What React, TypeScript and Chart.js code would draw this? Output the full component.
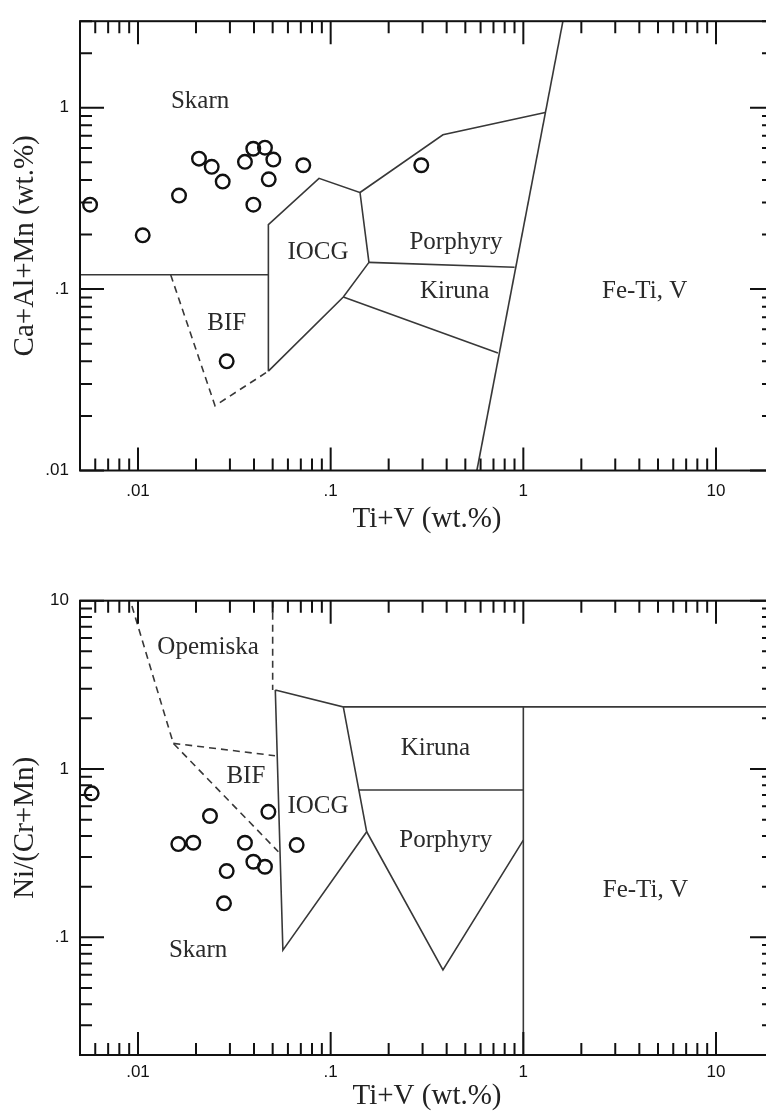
import React, { useEffect, useRef } from "react";
import { Chart, registerables } from "chart.js";

Chart.register(...registerables);

type Pt = [number, number];

// ---------- axes ----------
const X_MIN = 0.005;
const X_MAX = 20;
const TOP_Y_MIN = 0.01;
const TOP_Y_MAX = 3;
const BOT_Y_MIN = 0.02;
const BOT_Y_MAX = 10;
const xTickValues = [0.01, 0.1, 1, 10];
const topYTickValues = [0.01, 0.1, 1];
const botYTickValues = [0.1, 1, 10];
const xTitle = "Ti+V (wt.%)";
const topYTitle = "Ca+Al+Mn (wt.%)";
const botYTitle = "Ni/(Cr+Mn)";

// ---------- samples: upper diagram ----------
const topSampleX = [0.00564, 0.01058, 0.01633, 0.02073, 0.02413, 0.02752, 0.0359, 0.03966, 0.0456, 0.0504, 0.0477, 0.0397, 0.0721, 0.2953, 0.02886];
const topSampleY = [0.292, 0.198, 0.328, 0.524, 0.4725, 0.3915, 0.503, 0.594, 0.602, 0.518, 0.403, 0.292, 0.482, 0.482, 0.04];

// ---------- samples: lower diagram ----------
const botSampleX = [0.00575, 0.02364, 0.0475, 0.01619, 0.01936, 0.0359, 0.0397, 0.0456, 0.02886, 0.02795, 0.0666];
const botSampleY = [0.717, 0.526, 0.557, 0.3584, 0.3648, 0.3648, 0.2813, 0.2627, 0.2477, 0.1592, 0.3534];

// ---------- field boundaries: upper diagram ----------
const topSkarnBase: Pt[] = [[0.005, 0.12], [0.0475, 0.12]];
const topBifDashed: Pt[] = [[0.01478, 0.12], [0.0251, 0.02276], [0.0475, 0.0353]];
const topIocg: Pt[] = [[0.0475, 0.0353], [0.0475, 0.227], [0.087, 0.408], [0.142, 0.341], [0.158, 0.1404], [0.1163, 0.0905], [0.0475, 0.0353]];
const topPorphyryTop: Pt[] = [[0.142, 0.341], [0.3826, 0.709], [1.299, 0.942]];
const topPorphyryBase: Pt[] = [[0.158, 0.1404], [0.901, 0.132]];
const topKirunaBase: Pt[] = [[0.1163, 0.0905], [0.738, 0.0444]];
const topFeTiEdge: Pt[] = [[0.574, 0.01], [1.605, 3]];

// ---------- field boundaries: lower diagram ----------
const botOpemiskaLeft: Pt[] = [[0.0093, 9.3], [0.01525, 1.421], [0.0535, 0.3226]];
const botBifTop: Pt[] = [[0.01525, 1.421], [0.0514, 1.2]];
const botOpemiskaRight: Pt[] = [[0.05, 10], [0.05, 2.95]];
const botIocg: Pt[] = [[0.0516, 2.95], [0.1163, 2.34], [0.1538, 0.424], [0.0565, 0.084], [0.0516, 2.95]];
const botKirunaTop: Pt[] = [[0.1163, 2.34], [20, 2.34]];
const botPorphyry: Pt[] = [[0.1538, 0.424], [0.3826, 0.064], [1, 0.378]];
const botKirunaBase: Pt[] = [[0.14, 0.75], [1, 0.75]];
const botFeTiEdge: Pt[] = [[1, 2.34], [1, 0.02]];

// ---------- field names ----------
const topFieldNames = ["Skarn", "IOCG", "Porphyry", "Kiruna", "Fe-Ti, V", "BIF"];
const topFieldX = [0.021, 0.0859, 0.447, 0.44, 4.26, 0.0289];
const topFieldY = [1.086, 0.159, 0.18, 0.0976, 0.0976, 0.0647];

const botFieldNames = ["Opemiska", "BIF", "IOCG", "Kiruna", "Porphyry", "Skarn", "Fe-Ti, V"];
const botFieldX = [0.0231, 0.0363, 0.0859, 0.35, 0.396, 0.0205, 4.3];
const botFieldY = [5.28, 0.909, 0.597, 1.327, 0.375, 0.084, 0.189];

// ---------- styles ----------
const SERIF = "'Liberation Serif', 'Times New Roman', serif";
const SANS = "'Liberation Sans', Arial, sans-serif";
const LINE_COLOR = "#383838";

const fmtTick = (v: number | string) => {
  const n = Number(v);
  return n < 1 ? String(n).replace(/^0/, "") : String(n);
};
const toXY = (pts: Pt[]) => pts.map(([x, y]) => ({ x, y }));

const frameTicksPlugin = {
  id: "frameTicks",
  afterDraw(chart: any) {
    const { ctx, chartArea: a, scales } = chart;
    const xs = scales.x;
    const ys = scales.y;
    const each = (min: number, max: number, fn: (v: number, major: boolean) => void) => {
      for (let d = Math.floor(Math.log10(min)); d <= Math.ceil(Math.log10(max)); d++) {
        for (let m = 1; m <= 9; m++) {
          const v = m * Math.pow(10, d);
          if (v < min * (1 - 1e-9) || v > max * (1 + 1e-9)) continue;
          fn(v, m === 1);
        }
      }
    };
    ctx.save();
    ctx.strokeStyle = "#111";
    ctx.lineWidth = 2;
    ctx.beginPath();
    each(xs.min, xs.max, (v, major) => {
      const p = xs.getPixelForValue(v);
      const len = major ? 23 : 12;
      ctx.moveTo(p, a.bottom);
      ctx.lineTo(p, a.bottom - len);
      ctx.moveTo(p, a.top);
      ctx.lineTo(p, a.top + len);
    });
    each(ys.min, ys.max, (v, major) => {
      const p = ys.getPixelForValue(v);
      const len = major ? 24 : 12;
      ctx.moveTo(a.left, p);
      ctx.lineTo(a.left + len, p);
      ctx.moveTo(a.right, p);
      ctx.lineTo(a.right - len, p);
    });
    ctx.stroke();
    ctx.lineWidth = 2;
    ctx.strokeRect(a.left, a.top, a.right - a.left, a.bottom - a.top);
    ctx.restore();
  },
};

const fieldLabelPlugin = {
  id: "fieldLabels",
  afterDatasetsDraw(chart: any, _args: any, opts: any) {
    const { ctx, scales } = chart;
    const names: string[] = opts.names || [];
    ctx.save();
    ctx.fillStyle = "#2a2a2a";
    ctx.font = `25px ${SERIF}`;
    ctx.textAlign = "center";
    ctx.textBaseline = "middle";
    names.forEach((n, i) => {
      const px = scales.x.getPixelForValue(opts.xs[i]);
      const py = scales.y.getPixelForValue(opts.ys[i]);
      ctx.fillText(n, px, py);
    });
    ctx.restore();
  },
};

type Spec = {
  top: number;
  width: number;
  height: number;
  padTop: number;
  padRight: number;
  yWidth: number;
  xHeight: number;
  yMin: number;
  yMax: number;
  yTicks: number[];
  yTitle: string;
  xTickPad: number;
  xTitlePad: number;
  sx: number[];
  sy: number[];
  solid: Pt[][];
  dashed: Pt[][];
  names: string[];
  nx: number[];
  ny: number[];
};

const topSpec: Spec = {
  top: 0,
  width: 800,
  height: 545,
  padTop: 16,
  padRight: 26,
  yWidth: 80,
  xHeight: 74.5,
  yMin: TOP_Y_MIN,
  yMax: TOP_Y_MAX,
  yTicks: topYTickValues,
  yTitle: topYTitle,
  xTickPad: 11,
  xTitlePad: 8,
  sx: topSampleX,
  sy: topSampleY,
  solid: [topSkarnBase, topIocg, topPorphyryTop, topPorphyryBase, topKirunaBase, topFeTiEdge],
  dashed: [topBifDashed],
  names: topFieldNames,
  nx: topFieldX,
  ny: topFieldY,
};

const botSpec: Spec = {
  top: 545,
  width: 800,
  height: 566,
  padTop: 55.7,
  padRight: 26,
  yWidth: 80,
  xHeight: 56,
  yMin: BOT_Y_MIN,
  yMax: BOT_Y_MAX,
  yTicks: botYTickValues,
  yTitle: botYTitle,
  xTickPad: 7,
  xTitlePad: -2.5,
  sx: botSampleX,
  sy: botSampleY,
  solid: [botIocg, botKirunaTop, botPorphyry, botKirunaBase, botFeTiEdge],
  dashed: [botOpemiskaLeft, botBifTop, botOpemiskaRight],
  names: botFieldNames,
  nx: botFieldX,
  ny: botFieldY,
};

function buildConfig(s: Spec): any {
  const lineDs = (pts: Pt[], dashed: boolean) => ({
    type: "scatter",
    data: toXY(pts),
    showLine: true,
    pointRadius: 0,
    borderColor: LINE_COLOR,
    borderWidth: 1.6,
    borderDash: dashed ? [7, 5] : [],
    fill: false,
    tension: 0,
    order: 2,
  });
  return {
    type: "scatter",
    data: {
      datasets: [
        {
          label: "samples",
          data: s.sx.map((x, i) => ({ x, y: s.sy[i] })),
          pointStyle: "circle",
          pointRadius: 6.8,
          borderWidth: 2.4,
          borderColor: "#111",
          backgroundColor: "rgba(0,0,0,0)",
          order: 1,
        },
        ...s.solid.map((p) => lineDs(p, false)),
        ...s.dashed.map((p) => lineDs(p, true)),
      ],
    },
    options: {
      responsive: false,
      animation: false,
      devicePixelRatio: 1,
      layout: { padding: { top: s.padTop, right: s.padRight, left: 0, bottom: 0 } },
      plugins: {
        legend: { display: false },
        tooltip: { enabled: false },
        fieldLabels: { names: s.names, xs: s.nx, ys: s.ny },
      },
      scales: {
        x: {
          type: "logarithmic",
          position: "bottom",
          min: X_MIN,
          max: X_MAX,
          afterBuildTicks: (sc: any) => {
            sc.ticks = xTickValues.map((v) => ({ value: v }));
          },
          afterFit: (sc: any) => {
            sc.height = s.xHeight;
          },
          grid: { display: false, drawTicks: false },
          border: { display: false },
          ticks: {
            callback: fmtTick,
            color: "#111",
            font: { family: SANS, size: 17 },
            padding: s.xTickPad,
            maxRotation: 0,
            autoSkip: false,
          },
          title: {
            display: true,
            text: xTitle,
            color: "#222",
            font: { family: SERIF, size: 29 },
            padding: { top: 0, bottom: s.xTitlePad },
          },
        },
        y: {
          type: "logarithmic",
          position: "left",
          min: s.yMin,
          max: s.yMax,
          afterBuildTicks: (sc: any) => {
            sc.ticks = s.yTicks.map((v) => ({ value: v }));
          },
          afterFit: (sc: any) => {
            sc.width = s.yWidth;
          },
          grid: { display: false, drawTicks: false },
          border: { display: false },
          ticks: {
            callback: fmtTick,
            color: "#111",
            font: { family: SANS, size: 17 },
            padding: 11,
            autoSkip: false,
          },
          title: {
            display: true,
            text: s.yTitle,
            color: "#222",
            font: { family: SERIF, size: 29 },
            padding: { top: 8, bottom: 0 },
          },
        },
      },
    },
    plugins: [frameTicksPlugin, fieldLabelPlugin],
  };
}

function LogPanel({ spec }: { spec: Spec }) {
  const ref = useRef<HTMLCanvasElement>(null);
  useEffect(() => {
    if (!ref.current) return;
    const chart = new Chart(ref.current, buildConfig(spec));
    return () => chart.destroy();
  }, [spec]);
  return (
    <canvas
      ref={ref}
      width={spec.width}
      height={spec.height}
      style={{ position: "absolute", left: 0, top: spec.top, width: spec.width, height: spec.height, display: "block" }}
    />
  );
}

export default function App() {
  return (
    <div
      style={{
        position: "fixed",
        left: 0,
        top: 0,
        width: 766,
        height: 1111,
        overflow: "hidden",
        background: "#fff",
      }}
    >
      <LogPanel spec={topSpec} />
      <LogPanel spec={botSpec} />
    </div>
  );
}
